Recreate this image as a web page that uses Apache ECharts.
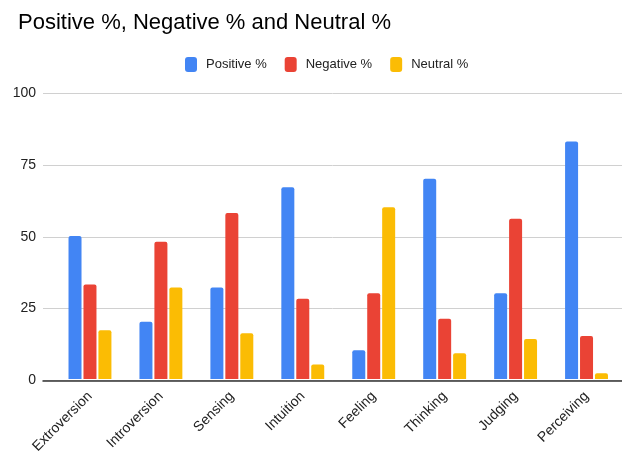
<!DOCTYPE html>
<html>
<head>
<meta charset="utf-8">
<title>Positive %, Negative % and Neutral %</title>
<script src="https://cdn.jsdelivr.net/npm/echarts@6/dist/echarts.min.js"></script>
<style>
    html, body { margin: 0; padding: 0; background: #fff; }
    #chart { width: 622px; height: 456px; }
</style>
</head>
<body>
<div id="chart"></div>
<script type="text/javascript">
    // data
    var categories = ['Extroversion', 'Introversion', 'Sensing', 'Intuition', 'Feeling', 'Thinking', 'Judging', 'Perceiving'];
    var positive = [50, 20, 32, 67, 10, 70, 30, 83];
    var negative = [33, 48, 58, 28, 30, 21, 56, 15];
    var neutral = [17, 32, 16, 5, 60, 9, 14, 2];
    var yTicks = [0, 25, 50, 75, 100];

    var font = '"Liberation Sans", Arial, sans-serif';
    var chart = echarts.init(document.getElementById('chart'));

    function barSeries(name, values, color) {
        return {
            name: name,
            type: 'bar',
            xAxisIndex: 1,
            yAxisIndex: 1,
            data: values,
            barWidth: 13,
            barGap: '15%',
            itemStyle: {color: color, borderRadius: [2, 2, 0, 0]}
        };
    }

    chart.setOption({
        animation: false,
        title: {
            text: 'Positive %, Negative % and Neutral %',
            left: 13,
            top: 7,
            textStyle: {fontFamily: font, fontSize: 22, fontWeight: 'normal', color: '#000'}
        },
        legend: {
            left: 180,
            top: 52,
            itemWidth: 12,
            itemHeight: 15,
            itemGap: 18,
            icon: 'roundRect',
            textStyle: {fontFamily: font, fontSize: 13, color: '#222', padding: [0, 0, 0, 4]},
            data: ['Positive %', 'Negative %', 'Neutral %']
        },
        // grid 0 holds the gridlines and y labels, grid 1 the category bands
        grid: [
            {left: 43, right: 0, top: 93, bottom: 75.5},
            {left: 54.5, right: 0, top: 93, bottom: 75.5}
        ],
        xAxis: [
            {
                gridIndex: 0,
                type: 'value',
                min: 0,
                max: 1,
                z: 10,
                axisLine: {show: true, lineStyle: {color: '#333', width: 1.5}},
                axisTick: {show: false},
                axisLabel: {show: false},
                splitLine: {show: false}
            },
            {
                gridIndex: 1,
                type: 'category',
                data: categories,
                axisLine: {show: false},
                axisTick: {show: false},
                axisLabel: {
                    rotate: 45,
                    margin: 15,
                    interval: 0,
                    fontFamily: font,
                    fontSize: 14,
                    color: '#222'
                }
            }
        ],
        yAxis: [
            {
                gridIndex: 0,
                type: 'value',
                min: yTicks[0],
                max: yTicks[yTicks.length - 1],
                interval: 25,
                axisLine: {show: false},
                axisTick: {show: false},
                axisLabel: {fontFamily: font, fontSize: 14, color: '#222', margin: 7},
                splitLine: {lineStyle: {color: '#d0d0d0', width: 1}}
            },
            {
                gridIndex: 1,
                type: 'value',
                min: 0,
                max: 100,
                show: false,
                splitLine: {show: false}
            }
        ],
        series: [
            barSeries('Positive %', positive, '#4285F4'),
            barSeries('Negative %', negative, '#EA4335'),
            barSeries('Neutral %', neutral, '#FBBC04')
        ]
    });
</script>
</body>
</html>
